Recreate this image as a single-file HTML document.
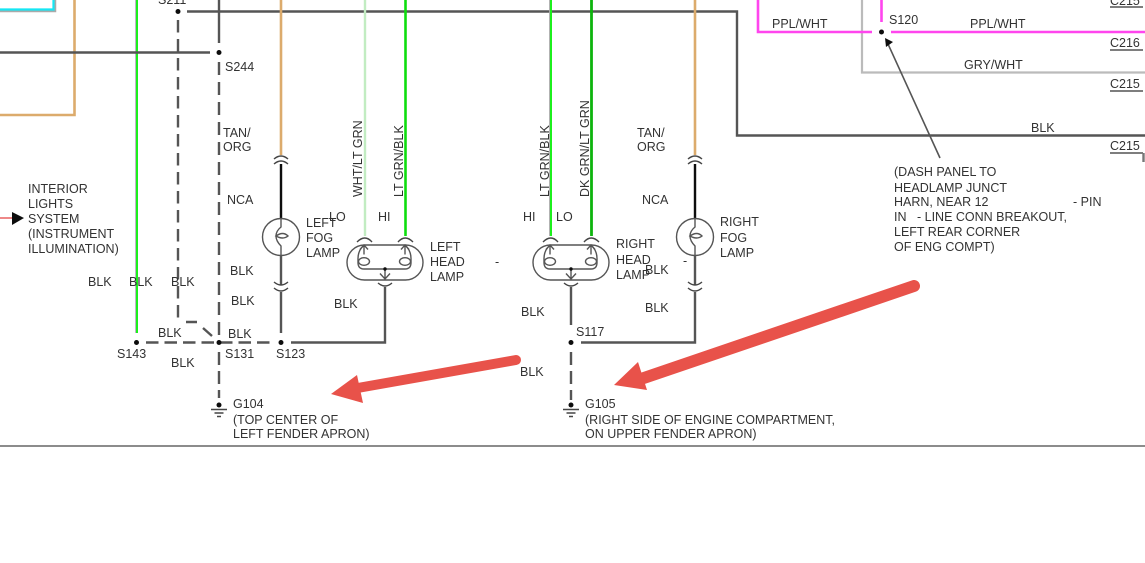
<!DOCTYPE html>
<html><head><meta charset="utf-8"><style>
html,body{margin:0;padding:0;background:#fff;width:1145px;height:563px;overflow:hidden}
svg{display:block}
text{font-family:"Liberation Sans",sans-serif;font-size:12.5px;fill:#333}
</style></head><body>
<svg width="1145" height="563" viewBox="0 0 1145 563" xmlns="http://www.w3.org/2000/svg">
<defs>
<filter id="b" x="-5%" y="-5%" width="110%" height="110%"><feGaussianBlur stdDeviation="0.3"/></filter>
<g id="conn" fill="none" stroke="#444" stroke-width="1.400"><path d="M-7 3Q0 -3 7 3"/><path d="M-7 8Q0 2 7 8"/></g>
<g id="connb" fill="none" stroke="#444" stroke-width="1.400"><path d="M-7 -3Q0 3 7 -3"/><path d="M-7 3Q0 9 7 3"/></g>
<g id="fog" fill="none" stroke="#555" stroke-width="1.400">
<circle cx="0" cy="0" r="18.500"/>
<path d="M0 -18V-10Q-5 -6 -5 -1Q-5 4 0 9V18"/>
<path d="M-5 -1Q2 -6 7 -1Q2 3 -5 -1Z"/>
</g>
<g id="head" fill="none" stroke="#555" stroke-width="1.400">
<rect x="-38" y="-17.500" width="76" height="35" rx="17.500" ry="17.500"/>
<path d="M-21 -17.500V-8M-25 -13L-21 -17.500L-17 -13"/>
<path d="M20 -17.500V-8M16 -13L20 -17.500L24 -13"/>
<path d="M-21 -17.500Q-27 -12 -27 -4V0Q-27 6.500 -21 6.500H20Q26 6.500 26 0V-4Q26 -12 20 -17.500"/>
<ellipse cx="-21" cy="-1" rx="5.500" ry="3.800"/>
<ellipse cx="20" cy="-1" rx="5.500" ry="3.800"/>
<path d="M0 6.500V17.500M-5 11L0 16.500L5 11"/>
<circle cx="0" cy="6.500" r="1.700" fill="#111" stroke="none"/>
</g>
<g id="gnd" stroke="#444" stroke-width="1.400" fill="none">
<path d="M-8 0H8M-4.500 3.500H4.500M-2 7H2"/>
</g>
</defs>
<g filter="url(#b)">
<path d="M0 10.500H54.500V0" fill="none" stroke="#aaa" stroke-width="3.500"/>
<path d="M0 9.500H53.500V0" fill="none" stroke="#14e6f4" stroke-width="2.200"/>
<path d="M0 115H74.500V0" fill="none" stroke="#dcab6c" stroke-width="2.600"/>
<path d="M136.500 0V333" stroke="#b9a9c4" stroke-width="2.800" fill="none"/>
<path d="M137 0V333" stroke="#1ff01f" stroke-width="2" fill="none"/>
<path d="M0 52.500H210" stroke="#555" stroke-width="2.400" fill="none"/>
<path d="M219 0V43" stroke="#555" stroke-width="2.400" fill="none"/>
<path d="M187 11.500H737V135.500H1145" stroke="#555" stroke-width="2.400" fill="none"/>
<path d="M178 20V322" stroke="#555" stroke-width="2.400" stroke-dasharray="12.500 6.500" fill="none"/>
<path d="M186 322H197M203 328L212 336" stroke="#555" stroke-width="2.400" fill="none"/>
<path d="M219 62V337" stroke="#555" stroke-width="2.400" stroke-dasharray="13 7" fill="none"/>
<path d="M219 352V398" stroke="#555" stroke-width="2.400" stroke-dasharray="13 6" fill="none"/>
<path d="M146 342.500H275" stroke="#555" stroke-width="2.400" stroke-dasharray="12.500 6" fill="none"/>
<path d="M571 352V400" stroke="#555" stroke-width="2.400" stroke-dasharray="13 6" fill="none"/>
<g fill="#111">
<circle cx="178" cy="11.500" r="2.500"/><circle cx="219" cy="52.500" r="2.500"/>
<circle cx="136.500" cy="342.500" r="2.500"/><circle cx="219" cy="342.500" r="2.500"/><circle cx="281" cy="342.500" r="2.500"/>
<circle cx="571" cy="342.500" r="2.500"/><circle cx="219" cy="405" r="2.500"/><circle cx="571" cy="405" r="2.500"/>
<circle cx="881.500" cy="32" r="2.500"/>
</g>
<use href="#gnd" x="219" y="409.500"/><use href="#gnd" x="571" y="409.500"/>
<path d="M281 0V155" stroke="#dcab6c" stroke-width="2.600" fill="none"/>
<path d="M695 0V155" stroke="#dcab6c" stroke-width="2.600" fill="none"/>
<use href="#conn" x="281" y="156"/><use href="#conn" x="695" y="156"/>
<path d="M281 164V219M695 164V219" stroke="#111" stroke-width="2.400" fill="none"/>
<use href="#fog" x="281" y="237"/><use href="#fog" x="695" y="237"/>
<path d="M281 255V285M281 292V333M695 255V285M695 292V342.500H581" stroke="#555" stroke-width="2.400" fill="none"/>
<use href="#connb" x="281" y="285"/><use href="#connb" x="695" y="285"/>
<path d="M365 0V236" stroke="#c2ecc2" stroke-width="2.400" fill="none"/>
<path d="M405.500 0V236" stroke="#0ede0e" stroke-width="2.600" fill="none"/>
<path d="M550.500 0V236" stroke="#aaa" stroke-width="2.800" fill="none"/>
<path d="M551 0V236" stroke="#1ff01f" stroke-width="2" fill="none"/>
<path d="M591.500 0V236" stroke="#0ab40a" stroke-width="2.800" fill="none"/>
<use href="#head" x="385" y="262.500"/><use href="#head" x="571" y="262.500"/>
<g fill="none" stroke="#444" stroke-width="1.400">
<path d="M357 242Q365 234 372 242M398 242Q405 234 413 242M543 242Q551 234 558 242M584 242Q591 234 599 242"/>
<path d="M378 283Q385 289 392 283M564 283Q571 289 578 283"/>
</g>
<path d="M385 287V342.500H291M571 287V325" stroke="#555" stroke-width="2.400" fill="none"/>
<path d="M862 0V72.500H1145" stroke="#bbb" stroke-width="2.200" fill="none"/>
<path d="M758 0V32H872M881.500 0V22M891 32H1145" stroke="#ff45ee" stroke-width="2.600" fill="none"/>
<path d="M1110 7H1143M1110 50H1143M1110 91H1143M1110 153H1143" stroke="#333" stroke-width="1.200" fill="none"/>
<path d="M1143.500 153V162" stroke="#777" stroke-width="2.400" fill="none"/>
<path d="M940 158L888 44" stroke="#555" stroke-width="1.600" fill="none"/>
<polygon points="885,38 893,42 886,47" fill="#111"/>
<path d="M0 218H14" stroke="#e88" stroke-width="2" fill="none"/>
<polygon points="12,212 24,218 12,225" fill="#111"/>
<path d="M0 446H1145" stroke="#666" stroke-width="1.600" fill="none"/>
</g>
<g filter="url(#b)">
<text x="158" y="4">S211</text>
<text x="225" y="71">S244</text>
<text x="223" y="137">TAN/</text><text x="223" y="151">ORG</text>
<text x="227" y="204">NCA</text>
<text x="28" y="193">INTERIOR</text><text x="28" y="208">LIGHTS</text><text x="28" y="223">SYSTEM</text><text x="28" y="238">(INSTRUMENT</text><text x="28" y="253">ILLUMINATION)</text>
<text x="88" y="286">BLK</text><text x="129" y="286">BLK</text><text x="171" y="286">BLK</text>
<text x="230" y="275">BLK</text><text x="231" y="305">BLK</text>
<text x="158" y="337">BLK</text><text x="228" y="338">BLK</text><text x="171" y="367">BLK</text>
<text x="334" y="308">BLK</text><text x="521" y="316">BLK</text><text x="520" y="376">BLK</text>
<text x="645" y="274">BLK</text><text x="645" y="312">BLK</text>
<text x="117" y="358">S143</text><text x="225" y="358">S131</text><text x="276" y="358">S123</text><text x="576" y="336">S117</text>
<text x="233" y="408">G104</text><text x="233" y="424">(TOP CENTER OF</text><text x="233" y="438">LEFT FENDER APRON)</text>
<text x="585" y="408">G105</text><text x="585" y="424">(RIGHT SIDE OF ENGINE COMPARTMENT,</text><text x="585" y="438">ON UPPER FENDER APRON)</text>
<text x="306" y="227">LEFT</text><text x="306" y="242">FOG</text><text x="306" y="257">LAMP</text>
<text x="329" y="221">LO</text><text x="378" y="221">HI</text><text x="523" y="221">HI</text><text x="556" y="221">LO</text>
<text x="430" y="251">LEFT</text><text x="430" y="266">HEAD</text><text x="430" y="281">LAMP</text>
<text x="495" y="266">-</text><text x="683" y="265">-</text>
<text x="616" y="248">RIGHT</text><text x="616" y="264">HEAD</text><text x="616" y="279">LAMP</text>
<text x="720" y="226">RIGHT</text><text x="720" y="242">FOG</text><text x="720" y="257">LAMP</text>
<text x="637" y="137">TAN/</text><text x="637" y="151">ORG</text><text x="642" y="204">NCA</text>
<text transform="translate(362,197) rotate(-90)">WHT/LT GRN</text>
<text transform="translate(403,197) rotate(-90)">LT GRN/BLK</text>
<text transform="translate(549,197) rotate(-90)">LT GRN/BLK</text>
<text transform="translate(589,197) rotate(-90)">DK GRN/LT GRN</text>
<text x="772" y="28">PPL/WHT</text><text x="970" y="28">PPL/WHT</text><text x="964" y="69">GRY/WHT</text>
<text x="1031" y="132">BLK</text><text x="889" y="24">S120</text>
<text x="1110" y="5">C215</text><text x="1110" y="47">C216</text><text x="1110" y="88">C215</text><text x="1110" y="150">C215</text>
<text x="894" y="176">(DASH PANEL TO</text><text x="894" y="192">HEADLAMP JUNCT</text>
<text x="894" y="206">HARN, NEAR 12</text><text x="1073" y="206">- PIN</text>
<text x="894" y="221">IN</text><text x="917" y="221">- LINE CONN BREAKOUT,</text>
<text x="894" y="236">LEFT REAR CORNER</text><text x="894" y="251">OF ENG COMPT)</text>
</g>
<g fill="#e8524a" stroke="none">
<path d="M516 360L352 389" stroke="#e8524a" stroke-width="10" stroke-linecap="round" fill="none"/>
<polygon points="331,394 357,375 363,403"/>
<path d="M914 286L635 381" stroke="#e8524a" stroke-width="12" stroke-linecap="round" fill="none"/>
<polygon points="614,385 638,362 647,390"/>
</g>
</svg>
</body></html>
